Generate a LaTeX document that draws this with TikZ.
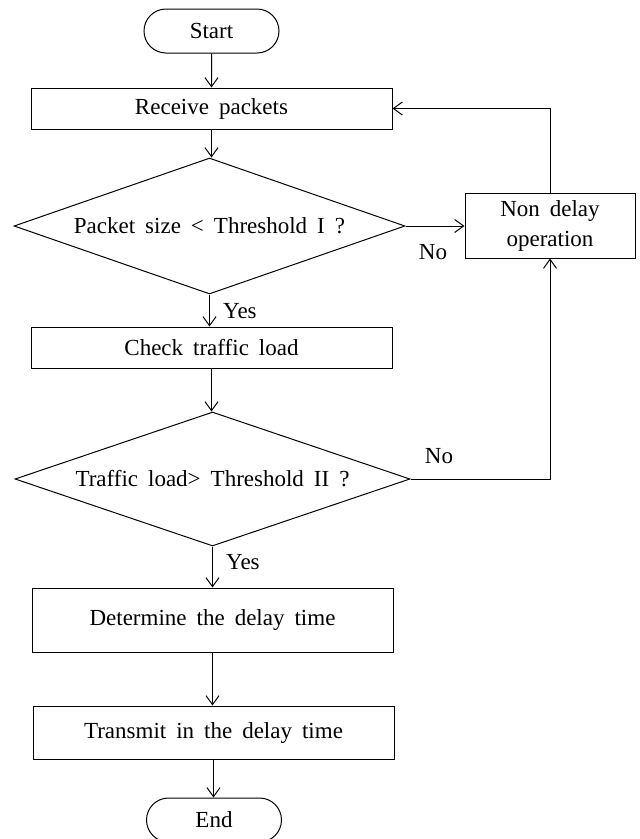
\documentclass[tikz,border=0pt]{standalone}
\usepackage{fontspec}
\setmainfont{Liberation Serif}
\usetikzlibrary{arrows.meta,shapes.geometric,shapes.misc}
\newcommand{\diagfont}{\fontsize{23}{30}\selectfont\spaceskip=10pt plus 2pt minus 1pt\relax}
\begin{document}
\begin{tikzpicture}[x=1pt,y=-1pt,
  font=\diagfont,
  base/.style={draw,line width=1pt,inner sep=0pt,align=center},
  proc/.style={base,rectangle,minimum width=361pt},
  term/.style={base,rounded rectangle,minimum width=135pt,minimum height=44pt},
  dec/.style={base,diamond,aspect=2.9},
  conn/.style={line width=1pt,-{Straight Barb[length=9pt,width=13pt]}},
  lbl/.style={inner sep=0pt}]
\useasboundingbox (0,0) rectangle (640,839);
\node[term] (start) at (211.5,31) {Start};
\node[proc, minimum height=41pt] (recv) at (211.5,108.5) {Receive packets};
\node[dec, minimum width=391pt, minimum height=136pt] (d1) at (209.5,226) {Packet size < Threshold I ?};
\node[base, minimum width=170pt, minimum height=65pt] (nd) at (550,225.5) {Non delay\\operation};
\node[proc, minimum height=41pt] (chk) at (211.5,347.5) {Check traffic load};
\node[dec, minimum width=395pt, minimum height=134pt] (d2) at (212.5,479) {Traffic load> Threshold II ?};
\node[proc, minimum height=64pt] (det) at (212.5,620) {Determine the delay time};
\node[proc, minimum height=53pt] (tx) at (213.5,732.5) {Transmit in the delay time};
\node[term] (end) at (214,820) {End};

\draw[conn] (start) -- (recv);
\draw[conn] (recv.south) -- (recv.south |- d1.north);
\draw[conn] (d1.south) -- (d1.south |- chk.north);
\draw[conn] (d1.east) -- (nd.west |- d1.east);
\draw[conn] (nd.north) |- (recv.east);
\draw[conn] (chk.south) -- (chk.south |- d2.north);
\draw[conn] (d2.east) -| (nd.south);
\draw[conn] (d2.south) -- (d2.south |- det.north);
\draw[conn] (det.south) -- (det.south |- tx.north);
\draw[conn] (tx.south) -- (tx.south |- end.north);

\node[lbl, anchor=west] (y1) at (223,311) {Yes};
\node[lbl] (n1) at (433,252) {No};
\node[lbl] (n2) at (439,456) {No};
\node[lbl, anchor=west] (y2) at (226,562) {Yes};
\end{tikzpicture}
\end{document}
